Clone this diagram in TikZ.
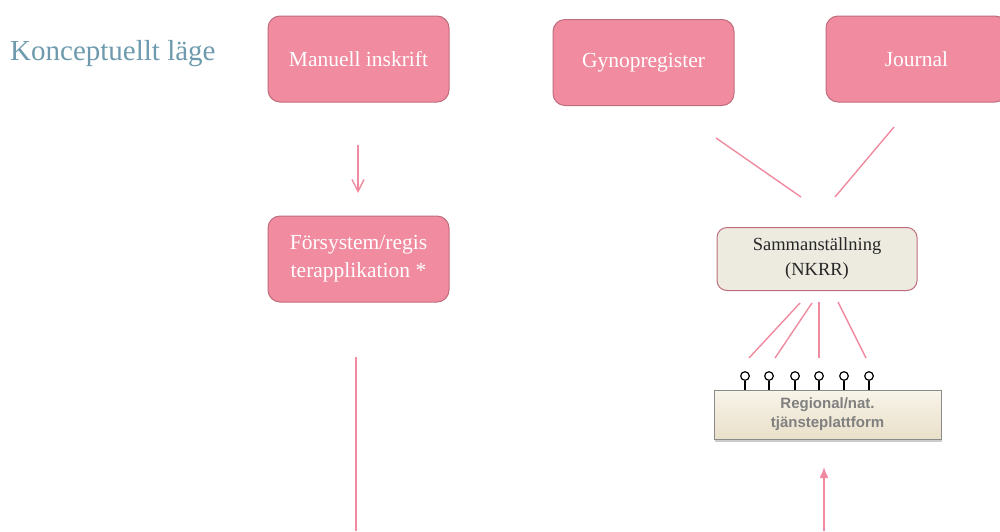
\documentclass[tikz,border=0pt]{standalone}
\usepackage{fontspec}
\setmainfont{Liberation Serif}
\newfontfamily\boxsans{Liberation Sans}
\usetikzlibrary{arrows.meta,shadows}
\definecolor{pinkfill}{HTML}{F18BA0}
\definecolor{pinkedge}{HTML}{BF6D7D}
\definecolor{pinkline}{HTML}{F08AA0}
\definecolor{beigefill}{HTML}{EDEAE0}
\definecolor{titleblue}{HTML}{6E9AAE}
\definecolor{plattop}{HTML}{F8F4E9}
\definecolor{platbot}{HTML}{E9E0C9}
\definecolor{platedge}{HTML}{8A8A8A}
\definecolor{plattext}{HTML}{808080}
\tikzset{
  pinkbox/.style={draw=pinkedge, line width=1pt, fill=pinkfill, rounded corners=12pt,
    minimum width=181pt, minimum height=86pt, text=white, align=center,
    font=\fontsize{21.5}{28}\selectfont, inner sep=0pt},
  beigebox/.style={draw=pinkedge, line width=1pt, fill=beigefill, rounded corners=10pt,
    minimum width=200pt, minimum height=63pt, text=black!85, align=center,
    font=\fontsize{18.5}{25}\selectfont, inner sep=0pt},
  platbox/.style={draw=platedge, line width=1pt, top color=plattop, bottom color=platbot,
    minimum width=227pt, minimum height=49pt, text=plattext, align=center,
    font=\boxsans\bfseries\fontsize{15}{19}\selectfont, inner sep=0pt,
    drop shadow={shadow xshift=1pt, shadow yshift=-3pt, opacity=0.4}},
  conn/.style={draw=pinkline, line width=1.4pt},
  lolli/.style={draw=black, line width=1.2pt},
}
\begin{document}
\begin{tikzpicture}[x=1pt,y=-1pt]
\clip (0,0) rectangle (1000,531);
\node[anchor=base west, text=titleblue, font=\fontsize{29}{32}\selectfont, inner sep=0pt] (title) at (10,60) {Konceptuellt läge};

\node[pinkbox] (manuell) at (358.5,59) {Manuell inskrift};
\node[pinkbox] (forsys) at (358.5,259) {Försystem/regis\\terapplikation *};
\node[pinkbox] (gyno) at (643.5,62.5) {Gynopregister};
\node[pinkbox] (journal) at (916.5,59) {Journal};
\node[beigebox] (samman) at (817,259) {Sammanställning\\(NKRR)};
\node[platbox] (plat) at (827.5,414.5) {Regional/nat.\\tjänsteplattform};

% arrow Manuell -> Försystem
\coordinate (a1s) at (358,145);
\coordinate (a1e) at (358,193);
\draw[conn, -{Straight Barb[length=12pt,width=12pt,line width=1.4pt]}] (a1s) -- (a1e);

% vertical line from Försystem down
\coordinate (v1s) at (356,357);
\coordinate (v1e) at (356,531);
\draw[conn] (v1s) -- (v1e);

% lines into Sammanställning
\coordinate (g1) at (716,138);
\coordinate (g2) at (801,197);
\coordinate (j1) at (894,127);
\coordinate (j2) at (835,197);
\draw[conn] (g1) -- (g2);
\draw[conn] (j1) -- (j2);

% lines from Sammanställning to platform sockets
\coordinate (s1) at (800,303); \coordinate (e1) at (749,358);
\coordinate (s2) at (812,303); \coordinate (e2) at (775,358);
\coordinate (s3) at (819,302); \coordinate (e3) at (819,358);
\coordinate (s4) at (838,302); \coordinate (e4) at (866,358);
\draw[conn] (s1) -- (e1);
\draw[conn] (s2) -- (e2);
\draw[conn] (s3) -- (e3);
\draw[conn] (s4) -- (e4);

% lollipops
\foreach \x [count=\i] in {745,769,795,819,844,869}{
  \coordinate (lt\i) at (\x,380.5);
  \coordinate (lb\i) at (\x,390);
  \draw[lolli] (lt\i) -- (lb\i);
  \draw[lolli, fill=white] (\x,376) circle (4.3);
}

% arrow up into platform
\coordinate (u1s) at (824,531);
\coordinate (u1e) at (824,467);
\draw[conn, -{Latex[length=11pt,width=9pt]}] (u1s) -- (u1e);
\end{tikzpicture}
\end{document}
